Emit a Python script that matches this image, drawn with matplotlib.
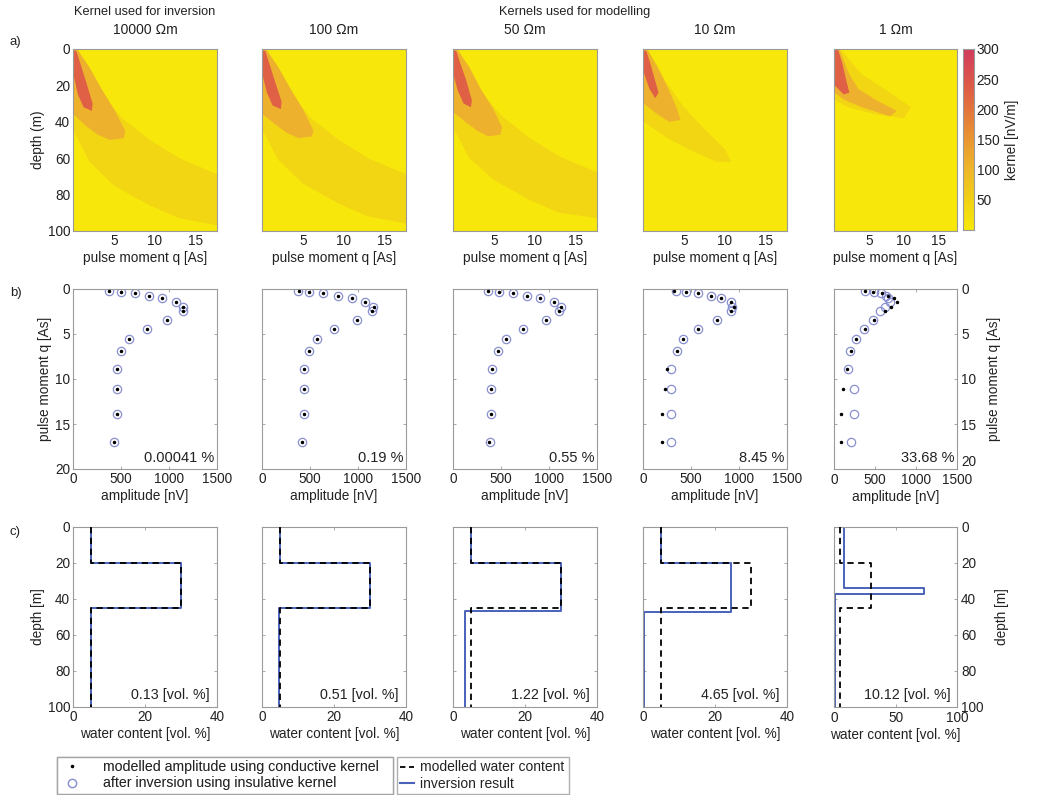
import numpy as np
import matplotlib
matplotlib.use("Agg")
import matplotlib.pyplot as plt
from matplotlib.colors import LinearSegmentedColormap, Normalize
from matplotlib.lines import Line2D

plt.rcParams['font.family'] = ['Liberation Sans', 'DejaVu Sans']
plt.rcParams['font.size'] = 9.5

# ---------------- data ----------------
resistivities = ["10000 \u2126m", "100 \u2126m", "50 \u2126m", "10 \u2126m", "1 \u2126m"]

# kernel contour bands (q [As], depth [m]); levels in nV/m
kernel_levels = [40, 110, 230]
k10000_low = [(0.1, 0), (0.6, 0.5), (3.0, 22), (6.0, 38), (9.4, 50), (13.0, 60), (17.7, 69),
              (17.7, 97), (13.0, 93), (9.4, 86), (5.0, 75), (2.0, 62), (0.1, 45)]
k10000_mid = [(0.1, 0), (0.5, 0), (2.0, 10), (3.5, 22), (5.0, 33), (6.4, 45), (6.2, 49),
              (4.5, 50), (3.0, 47), (1.5, 42), (0.1, 36)]
k10000_high = [(0.1, 1), (0.4, 1), (0.9, 8), (1.6, 18), (2.4, 30), (2.3, 34), (1.3, 32),
               (0.6, 25), (0.1, 15)]

k100_low = [(0.1, 0), (0.6, 0.5), (3.0, 22), (6.0, 38), (9.4, 50), (13.0, 60), (17.7, 69),
            (17.7, 96), (13.0, 92), (9.4, 85), (5.0, 74), (2.0, 61), (0.1, 45)]
k100_mid = [(0.1, 0), (0.5, 0), (2.0, 10), (3.5, 22), (5.0, 33), (6.3, 45), (6.1, 48),
            (4.5, 49), (3.0, 46), (1.5, 41), (0.1, 36)]
k100_high = [(0.1, 1), (0.4, 1), (0.9, 8), (1.6, 18), (2.4, 29), (2.3, 33), (1.3, 31),
             (0.6, 24), (0.1, 15)]

k50_low = [(0.1, 0), (0.6, 0.5), (3.0, 22), (6.0, 37), (9.4, 49), (13.0, 59), (17.7, 68),
           (17.7, 93), (13.0, 90), (9.4, 83), (5.0, 72), (2.0, 60), (0.1, 44)]
k50_mid = [(0.1, 0), (0.5, 0), (2.0, 10), (3.4, 22), (4.8, 32), (6.0, 43), (5.8, 47),
           (4.3, 48), (3.0, 45), (1.5, 40), (0.1, 35)]
k50_high = [(0.1, 1), (0.4, 1), (0.9, 8), (1.6, 17), (2.3, 28), (2.2, 32), (1.3, 30),
            (0.6, 23), (0.1, 15)]

k10_low = [(0.1, 0), (0.6, 0.5), (2.8, 18), (5.0, 32), (7.5, 44), (10.0, 55), (10.8, 62),
           (9.0, 62), (6.0, 56), (3.0, 49), (0.1, 40)]
k10_mid = [(0.1, 0), (0.5, 0), (1.8, 10), (3.0, 21), (4.0, 31), (4.6, 39), (3.2, 40),
           (1.5, 35), (0.1, 30)]
k10_high = [(0.1, 1), (0.4, 1), (0.9, 8), (1.4, 16), (1.9, 24), (1.5, 27), (0.8, 22), (0.1, 13)]

k1_low = [(0.1, 0), (1.0, 0.5), (4.0, 14), (8.0, 24), (11.0, 32), (10.0, 38), (6.0, 36),
          (2.0, 32), (0.1, 28)]
k1_mid = [(0.1, 0), (0.8, 0.5), (2.2, 14), (3.5, 22), (6.0, 28), (9.0, 34), (8.0, 37),
          (4.0, 32), (1.5, 28), (0.1, 24)]
k1_high = [(0.1, 0), (0.6, 0.5), (1.2, 8), (1.8, 18), (2.2, 24), (1.4, 25), (0.1, 20)]

kernel_panels = [
    [k10000_low, k10000_mid, k10000_high],
    [k100_low, k100_mid, k100_high],
    [k50_low, k50_mid, k50_high],
    [k10_low, k10_mid, k10_high],
    [k1_low, k1_mid, k1_high],
]

# sounding curves
pulse_moment = [0.2, 0.3, 0.5, 0.8, 1.05, 1.5, 2.05, 2.45, 3.4, 4.45, 5.6, 6.9, 8.85, 11.15, 13.85, 17.05]
amp_model_10000 = [379, 499, 646, 790, 931, 1068, 1149, 1145, 984, 766, 580, 499, 457, 457, 457, 429]
amp_inv_10000 = [379, 499, 646, 790, 931, 1068, 1149, 1145, 984, 766, 580, 499, 457, 457, 457, 429]
amp_model_100 = [383, 494, 640, 793, 936, 1075, 1162, 1148, 988, 752, 571, 494, 442, 438, 438, 414]
amp_inv_100 = [380, 494, 640, 793, 936, 1075, 1160, 1150, 988, 752, 571, 494, 440, 438, 438, 414]
amp_model_50 = [364, 477, 624, 775, 904, 1055, 1122, 1100, 964, 729, 554, 473, 403, 396, 396, 371]
amp_inv_50 = [364, 477, 624, 775, 904, 1055, 1122, 1100, 964, 729, 554, 473, 403, 396, 396, 390]
amp_model_10 = [326, 449, 578, 705, 810, 915, 950, 918, 775, 571, 414, 350, 252, 224, 203, 200]
amp_inv_10 = [345, 449, 578, 705, 810, 915, 925, 918, 775, 571, 414, 350, 287, 287, 294, 294]
amp_model_1 = [378, 480, 581, 663, 732, 765, 700, 620, 492, 378, 264, 203, 160, 114, 81, 81]
amp_inv_1 = [378, 490, 570, 630, 660, 680, 620, 560, 470, 365, 264, 195, 175, 248, 248, 203]
amp_model = [amp_model_10000, amp_model_100, amp_model_50, amp_model_10, amp_model_1]
amp_inv = [amp_inv_10000, amp_inv_100, amp_inv_50, amp_inv_10, amp_inv_1]
amp_error = ["0.00041 %", "0.19 %", "0.55 %", "8.45 %", "33.68 %"]

# water content profiles
model_depth = [0, 20, 45, 100]
model_wc = [5, 30, 5]
inv_depth = [[0, 20, 45, 100], [0, 20, 45, 100], [0, 20, 46.5, 100], [0, 20, 47, 100], [0, 34, 37, 100]]
inv_wc = [[5, 30, 5], [5, 30, 4.7], [5, 30, 3.3], [5, 24.5, 0.3], [8, 73, 1]]
wc_error = ["0.13 [vol. %]", "0.51 [vol. %]", "1.22 [vol. %]", "4.65 [vol. %]", "10.12 [vol. %]"]

# ---------------- layout ----------------
W, H = 1039, 795
fig = plt.figure(figsize=(W / 100, H / 100), dpi=100)
fig.patch.set_facecolor('white')

col_left = [73, 262, 453, 643, 834]
col_width = [144, 144, 144, 144, 123]
rows = {'a': (49, 231), 'b': (289, 469), 'c': (527, 707)}
TICK_FS = 9.8
LAB_FS = 9.8

def add_ax(col, row):
    top, bot = rows[row]
    return fig.add_axes([col_left[col] / W, 1 - bot / H, col_width[col] / W, (bot - top) / H])

spine_col = '#9a9a9a'
text_col = '#222222'

def style(ax):
    for s in ax.spines.values():
        s.set_color(spine_col)
        s.set_linewidth(0.8)
    ax.tick_params(direction='in', length=2.5, width=0.6, color=spine_col, labelcolor=text_col,
                   top=True, right=True, labelsize=TICK_FS, pad=2)

cmap = LinearSegmentedColormap.from_list('kern', [
    (0.0, '#f8e90a'), (0.15, '#f2d414'), (0.35, '#eeb42c'),
    (0.55, '#e98c34'), (0.8, '#de5a48'), (1.0, '#d23c5e')])
norm = Normalize(0, 300)

# row a: kernels
for i in range(5):
    ax = add_ax(i, 'a')
    ax.set_facecolor(cmap(norm(5)))
    for poly, lev in zip(kernel_panels[i], kernel_levels):
        pts = np.array(poly)
        ax.fill(pts[:, 0], pts[:, 1], color=cmap(norm(lev)), lw=0)
    ax.set_xlim(0, 17.6)
    ax.set_ylim(100, 0)
    ax.set_xticks([5, 10, 15])
    ax.set_yticks([0, 20, 40, 60, 80, 100])
    style(ax)
    ax.tick_params(length=0)
    if i == 0:
        ax.set_ylabel('depth (m)', fontsize=LAB_FS, labelpad=2, color=text_col)
    else:
        ax.set_yticklabels([])
    ax.set_xlabel('pulse moment q [As]', fontsize=LAB_FS, labelpad=2, color=text_col)
    ax.set_title(resistivities[i], fontsize=10, pad=11, color=text_col)

# colorbar
cax = fig.add_axes([963 / W, 1 - 230 / H, 11 / W, 181 / H])
grad = np.linspace(0, 300, 256).reshape(-1, 1)
cax.imshow(grad, cmap=cmap, norm=norm, aspect='auto', origin='lower', extent=[0, 1, 0, 300])
cax.set_xticks([])
cax.yaxis.tick_right()
cax.set_yticks([50, 100, 150, 200, 250, 300])
cax.tick_params(length=0, labelsize=TICK_FS, pad=2, labelcolor=text_col)
for s in cax.spines.values():
    s.set_color(spine_col)
cax.yaxis.set_label_position('right')
cax.set_ylabel('kernel [nV/m]', fontsize=LAB_FS, labelpad=4, color=text_col)

# row b: sounding curves
for i in range(5):
    ax = add_ax(i, 'b')
    ax.plot(amp_inv[i], pulse_moment, 'o', mfc='none', mec='#8a90d0', mew=0.9, ms=6, zorder=2)
    ax.plot(amp_model[i], pulse_moment, '.', color='black', ms=3, zorder=3)
    ax.set_xlim(0, 1500)
    ax.set_ylim(20, 0)
    ax.set_xticks([0, 500, 1000, 1500])
    ax.set_yticks([0, 5, 10, 15, 20])
    style(ax)
    ax.set_xlabel('amplitude [nV]', fontsize=LAB_FS, labelpad=2, color=text_col)
    ax.text(0.98, 0.025, amp_error[i], transform=ax.transAxes, ha='right', va='bottom',
            fontsize=10.5, color=text_col)
    if i == 0:
        ax.set_ylabel('pulse moment q [As]', fontsize=LAB_FS, labelpad=2, color=text_col)
    elif i == 4:
        ax.tick_params(labelleft=False, labelright=True, pad=3)
        ax.yaxis.set_label_position('right')
        ax.set_ylabel('pulse moment q [As]', fontsize=LAB_FS, labelpad=8, color=text_col)
        # lift the bottom right label a little so it does not sit on the "1500" tick label
        ax.get_yticklabels()[-1].set_va('bottom')
    else:
        ax.set_yticklabels([])

# row c: water content
blue = '#4a62b8'
for i in range(5):
    ax = add_ax(i, 'c')
    md = np.array(model_depth)
    mw = np.array(model_wc)
    ax.plot(np.repeat(mw, 2), np.repeat(md, 2)[1:-1], '--', color='black', lw=1.3,
            dashes=(3.5, 2.5), zorder=3)
    idp = np.array(inv_depth[i])
    iw = np.array(inv_wc[i])
    ax.plot(np.repeat(iw, 2), np.repeat(idp, 2)[1:-1], '-', color=blue, lw=1.4, zorder=2)
    if i == 4:
        ax.set_xlim(0, 100)
        ax.set_xticks([0, 50, 100])
    else:
        ax.set_xlim(0, 40)
        ax.set_xticks([0, 20, 40])
    ax.set_ylim(100, 0)
    ax.set_yticks([0, 20, 40, 60, 80, 100])
    style(ax)
    ax.set_xlabel('water content [vol. %]', fontsize=LAB_FS, labelpad=2, color=text_col)
    ax.text(0.95, 0.025, wc_error[i], transform=ax.transAxes, ha='right', va='bottom',
            fontsize=10.3, color=text_col)
    if i == 0:
        ax.set_ylabel('depth [m]', fontsize=LAB_FS, labelpad=2, color=text_col)
    elif i == 4:
        ax.tick_params(labelleft=False, labelright=True, pad=3)
        ax.yaxis.set_label_position('right')
        ax.set_ylabel('depth [m]', fontsize=LAB_FS, labelpad=8, color=text_col)
    else:
        ax.set_yticklabels([])

# headings and panel letters
fig.text(145 / W, 1 - 12 / H, 'Kernel used for inversion', ha='center', va='center', fontsize=9.2,
         color=text_col)
fig.text(575 / W, 1 - 12 / H, 'Kernels used for modelling', ha='center', va='center', fontsize=9.2,
         color=text_col)
for lab, y in [('a)', 42), ('b)', 293), ('c)', 532)]:
    fig.text(10 / W, 1 - y / H, lab, ha='left', va='center', fontsize=9.5, color=text_col)

# legends
h1 = [Line2D([], [], ls='none', marker='.', color='black', ms=3),
      Line2D([], [], ls='none', marker='o', mfc='none', mec='#8a90d0', ms=6)]
leg1 = fig.legend(h1, ['modelled amplitude using conductive kernel', 'after inversion using insulative kernel'],
                  loc='lower left', bbox_to_anchor=(57 / W, 1 - 794 / H, 336 / W, 42 / H), mode='expand',
                  fontsize=10.2, frameon=True, fancybox=False, edgecolor=spine_col, borderpad=0.25,
                  labelspacing=0.15, handlelength=1.6, handletextpad=1.4, borderaxespad=0,
                  labelcolor=text_col)
h2 = [Line2D([], [], ls='--', color='black', lw=1.3, dashes=(3, 2)),
      Line2D([], [], ls='-', color=blue, lw=1.5)]
leg2 = fig.legend(h2, ['modelled water content', 'inversion result'],
                  loc='lower left', bbox_to_anchor=(397 / W, 1 - 794 / H, 172 / W, 42 / H), mode='expand',
                  fontsize=10.0, frameon=True, fancybox=False, edgecolor=spine_col, borderpad=0.25,
                  labelspacing=0.15, handlelength=1.0, handletextpad=0.4, borderaxespad=0,
                  labelcolor=text_col)
fig.add_artist(leg1)

fig.savefig('out.png', dpi=100, facecolor='white')
